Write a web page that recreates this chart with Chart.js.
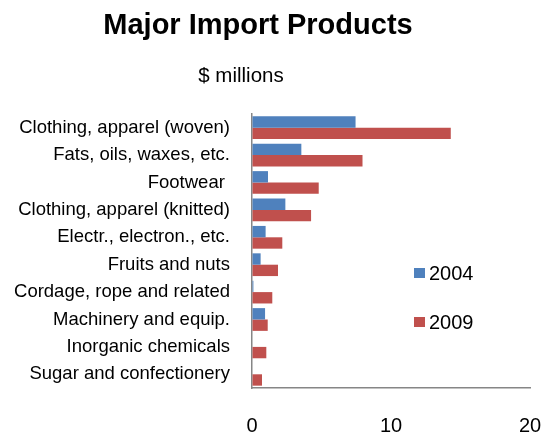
<!DOCTYPE html>
<html>
<head>
<meta charset="utf-8">
<script src="https://cdn.jsdelivr.net/npm/chart.js@4"></script>
<style>
  body { margin: 0; background: #fff; font-family: "Liberation Sans", Arial, sans-serif; }
  .wrap { position: relative; width: 556px; height: 434px; }
  canvas { position: absolute; left: 0; top: 0; }
  .title { position: absolute; left: 0; width: 516px; top: 7px; text-align: center; font-weight: bold; font-size: 29px; line-height: 34px; color: #000; }
  .subtitle { position: absolute; left: 0; width: 482px; top: 63px; text-align: center; font-size: 20.5px; line-height: 24px; color: #000; }
  .legend { position: absolute; left: 414px; top: 261px; }
  .legend-item { display: flex; align-items: center; height: 24px; margin-bottom: 25px; font-size: 20px; color: #000; }
  .legend-color { width: 11px; height: 10px; margin-right: 4px; }
</style>
</head>
<body>
<div class="wrap">
  <canvas id="importChart" width="556" height="434"></canvas>
  <div class="title">Major Import Products</div>
  <div class="subtitle">$ millions</div>
  <div class="legend" id="legend"></div>
</div>
<script>
const categories = [
  "Clothing, apparel (woven)",
  "Fats, oils, waxes, etc.",
  "Footwear ",
  "Clothing, apparel (knitted)",
  "Electr., electron., etc.",
  "Fruits and nuts",
  "Cordage, rope and related",
  "Machinery and equip.",
  "Inorganic chemicals",
  "Sugar and confectionery"
];
const values2004 = [7.45, 3.55, 1.15, 2.4, 0.98, 0.62, 0.1, 0.94, 0, 0];
const values2009 = [14.3, 7.95, 4.8, 4.25, 2.18, 1.87, 1.46, 1.13, 1.03, 0.72];
const xTicks = [0, 10, 20];

const FONT = "'Liberation Sans', Arial, sans-serif";

const datasets = [
  { label: "2004", data: values2004, backgroundColor: "#4f81bd" },
  { label: "2009", data: values2009, backgroundColor: "#c0504d" }
];

document.getElementById("legend").innerHTML = datasets
  .map((d) => `<div class="legend-item"><div class="legend-color" style="background:${d.backgroundColor};"></div><span>${d.label}</span></div>`)
  .join("");

new Chart(document.getElementById("importChart"), {
  type: "bar",
  data: { labels: categories, datasets },
  options: {
    indexAxis: "y",
    responsive: false,
    animation: false,
    datasets: { bar: { categoryPercentage: 0.83, barPercentage: 1.0 } },
    layout: { padding: { top: 114, right: 26, bottom: 0, left: 0 } },
    plugins: {
      legend: { display: false },
      tooltip: { enabled: false },
      title: { display: false }
    },
    scales: {
      x: {
        min: 0,
        max: 20,
        afterBuildTicks: (axis) => { axis.ticks = xTicks.map((v) => ({ value: v })); },
        afterFit: (axis) => {
          // fixed axis band; keep the edge labels from shrinking the plot
          axis.height = 46;
          axis.paddingLeft = 0;
          axis.paddingRight = 0;
        },
        grid: { drawOnChartArea: false, drawTicks: false },
        border: { color: "#868686", width: 1.5 },
        ticks: { padding: 26, color: "#000", font: { family: FONT, size: 20 } }
      },
      y: {
        afterFit: (axis) => { axis.width = 252; },
        grid: { drawOnChartArea: false, drawTicks: false },
        border: { color: "#868686", width: 1.5 },
        ticks: { padding: 22, color: "#000", autoSkip: false, font: { family: FONT, size: 18.5 } }
      }
    }
  }
});
</script>
</body>
</html>
